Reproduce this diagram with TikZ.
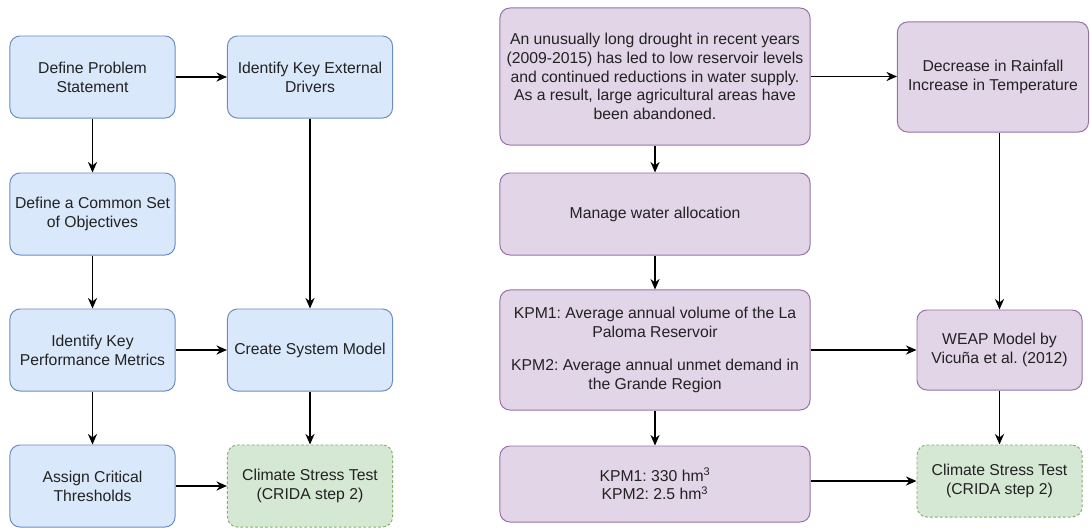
\documentclass[tikz,border=0pt]{standalone}
\usepackage{fontspec}
\setmainfont{Liberation Sans}
\usetikzlibrary{positioning,arrows.meta}

\definecolor{bluefill}{HTML}{DAE8FC}
\definecolor{bluedraw}{HTML}{6C8EBF}
\definecolor{purplefill}{HTML}{E1D5E7}
\definecolor{purpledraw}{HTML}{9673A6}
\definecolor{greenfill}{HTML}{D5E8D4}
\definecolor{greendraw}{HTML}{82B366}
\definecolor{txt}{HTML}{222222}

\begin{document}
\frenchspacing
\begin{tikzpicture}[x=0.025cm, y=-0.025cm,
  every node/.style={rectangle, rounded corners=0.25cm, align=center,
    inner sep=2pt, line width=0.7pt, text=txt,
    font=\fontsize{11.2}{13.4}\selectfont},
  bluebox/.style={draw=bluedraw, fill=bluefill,
    minimum width=4.125cm, minimum height=2.05cm},
  purplebox/.style={draw=purpledraw, fill=purplefill},
  greenbox/.style={draw=greendraw, fill=greenfill, dashed,
    dash pattern=on 2pt off 1.5pt, minimum width=4.125cm},
  e/.style={line width=1pt, -{Stealth[length=7.5pt,width=6.5pt]}}
]
\useasboundingbox (0,0) rectangle (1090,527);

% --- left flow ---
\node[bluebox] (prob) at (92.5,77) {Define Problem\\Statement};
\node[bluebox] (drivers) at (310,77) {Identify Key External\\Drivers};
\node[bluebox] (obj) at (92.5,214) {Define a Common Set\\of Objectives};
\node[bluebox] (kpm) at (92.5,350) {Identify Key\\Performance Metrics};
\node[bluebox] (model) at (310,350) {Create System Model};
\node[bluebox] (thr) at (92.5,486) {Assign Critical\\Thresholds};
\node[greenbox, minimum height=2.05cm] (stress) at (310,486)
  {Climate Stress Test\\(CRIDA step 2)};

% --- right flow ---
\node[purplebox, minimum width=7.75cm, minimum height=3.425cm] (drought) at (655,76.5)
  {An unusually long drought in recent years\\(2009-2015) has led to low reservoir levels\\
   and continued reductions in water supply.\\As a result, large agricultural areas have\\
   been abandoned.};
\node[purplebox, minimum width=4.775cm, minimum height=2.75cm] (climate) at (993,77)
  {Decrease in Rainfall\\Increase in Temperature};
\node[purplebox, minimum width=7.75cm, minimum height=2.05cm] (manage) at (655,214)
  {Manage water allocation};
\node[purplebox, minimum width=7.75cm, minimum height=3cm] (metrics) at (655,350)
  {KPM1: Average annual volume of the La\\Paloma Reservoir\\[0.9em]
   KPM2: Average annual unmet demand in\\the Grande Region};
\node[purplebox, minimum width=4.125cm, minimum height=2cm] (weap) at (999.5,350)
  {WEAP Model by\\Vicuña et al. (2012)};
\node[purplebox, minimum width=7.75cm, minimum height=1.9cm] (values) at (655,484)
  {KPM1: 330 hm\textsuperscript{3}\\KPM2: 2.5 hm\textsuperscript{3}};
\node[greenbox, minimum height=1.8cm] (stress2) at (999.5,481)
  {Climate Stress Test\\(CRIDA step 2)};

% --- left connectors ---
\draw[e] (prob) -- (drivers);
\draw[e] (prob) -- (obj);
\draw[e] (obj) -- (kpm);
\draw[e] (drivers) -- (model);
\draw[e] (kpm) -- (model);
\draw[e] (kpm) -- (thr);
\draw[e] (model) -- (stress);
\draw[e] (thr) -- (stress);

% --- right connectors ---
\draw[e] (drought) -- (drought -| climate.west);
\draw[e] (drought) -- (manage);
\draw[e] (manage) -- (metrics);
\draw[e] (metrics) -- (values);
\draw[e] (metrics) -- (weap);
\draw[e] (climate.south -| weap) -- (weap);
\draw[e] (weap) -- (stress2);
\draw[e] (values.east |- stress2) -- (stress2);

\end{tikzpicture}
\end{document}
